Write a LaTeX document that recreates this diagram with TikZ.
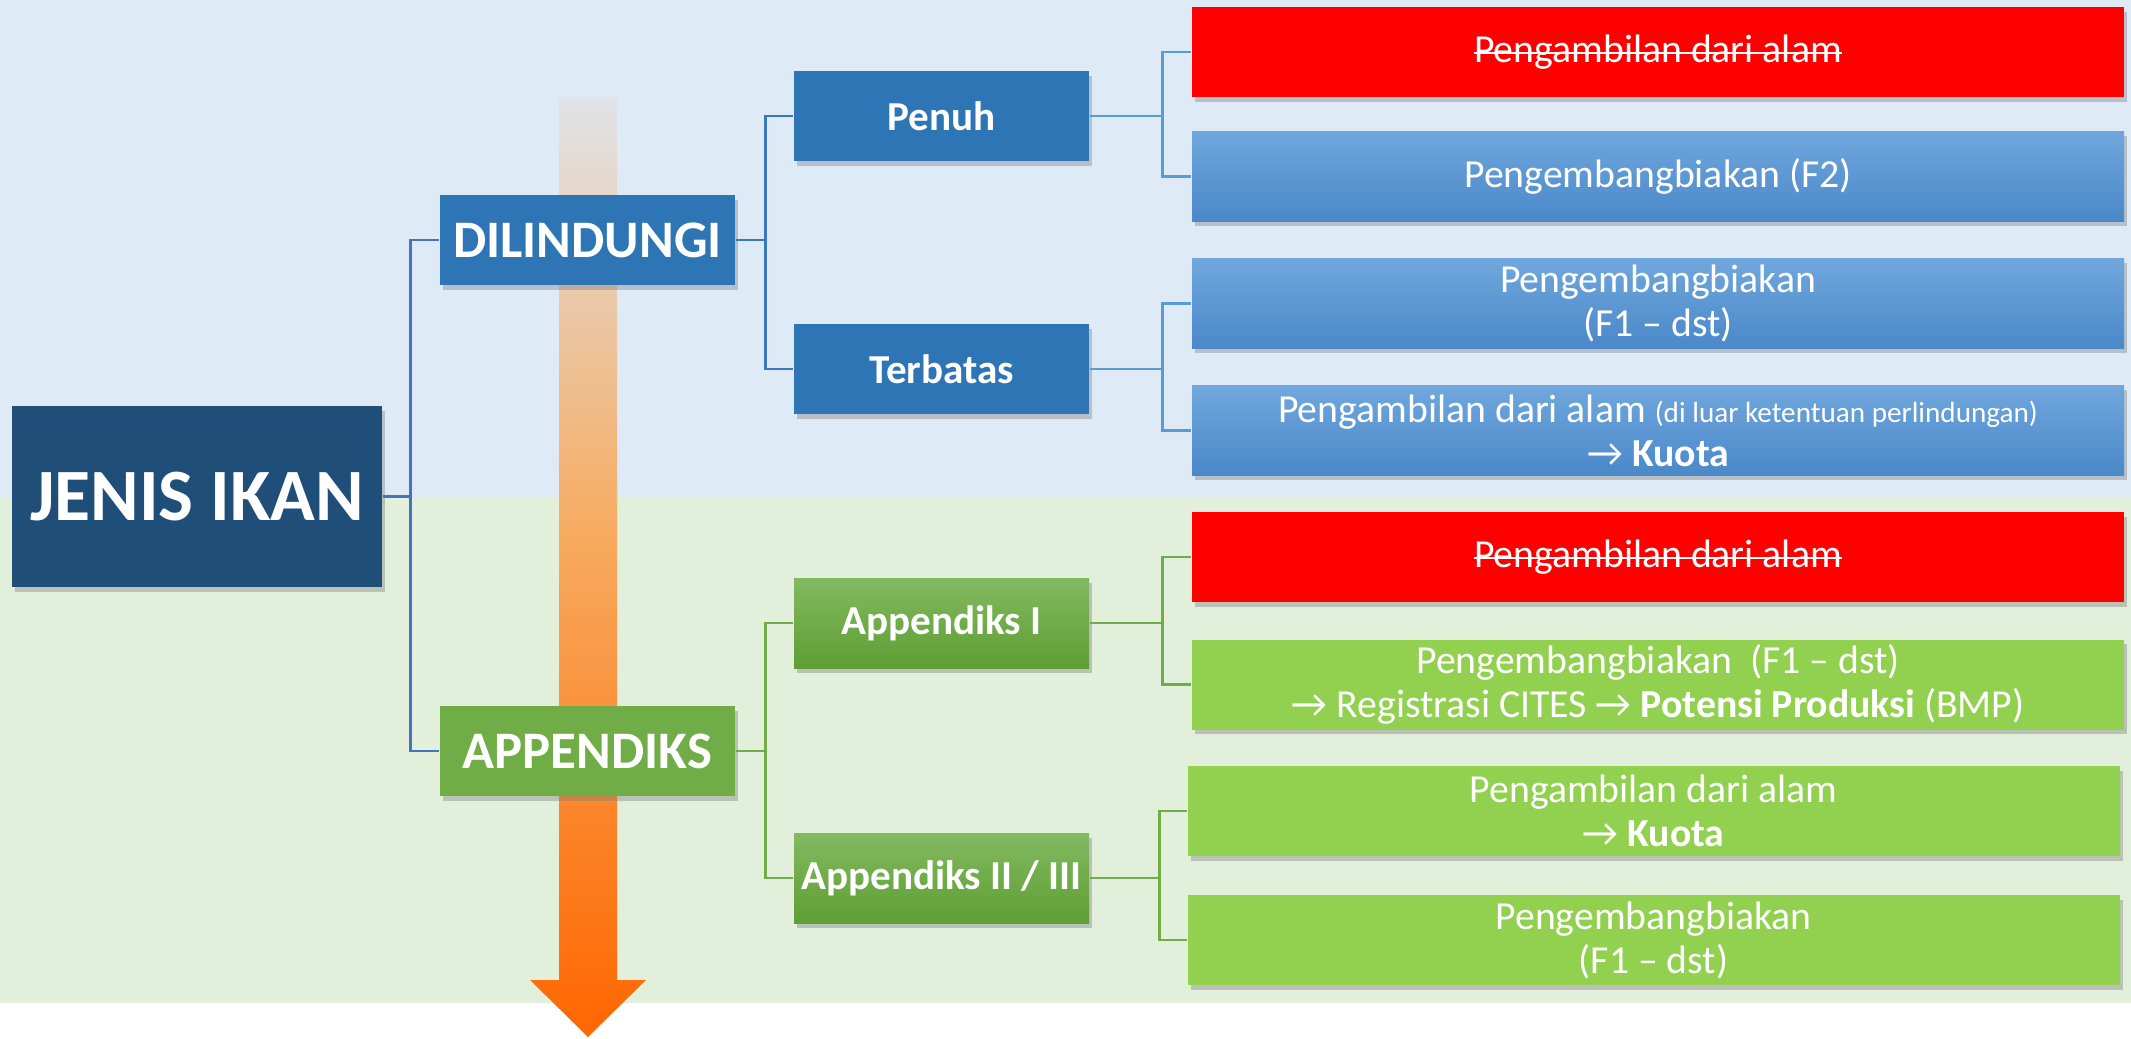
\documentclass[tikz,border=0pt]{standalone}
\usepackage{fontspec}
\setmainfont{Carlito}
\usetikzlibrary{shadows}
\newcommand{\strikeout}[1]{\setbox0=\hbox{#1}\rlap{\copy0}\rule[0.45ex]{\wd0}{0.6pt}}
\definecolor{navy}{HTML}{1F4E79}
\definecolor{ocean}{HTML}{2E75B6}
\definecolor{skytop}{HTML}{70A7DD}
\definecolor{skybot}{HTML}{4A88C9}
\definecolor{moss}{HTML}{70AD47}
\definecolor{mosstop}{HTML}{82BA60}
\definecolor{mossbot}{HTML}{5E9E34}
\definecolor{lime}{HTML}{92D050}
\definecolor{alarm}{HTML}{FF0000}
\definecolor{paleblue}{HTML}{DEEAF6}
\definecolor{palegreen}{HTML}{E2EFDA}
\definecolor{wire}{HTML}{4472C4}
\definecolor{wiremid}{HTML}{3A78BE}
\definecolor{wirelight}{HTML}{5B9BD5}
\definecolor{haze}{HTML}{E0E3E8}
\definecolor{apricot}{HTML}{F7AA5E}
\definecolor{ember}{HTML}{FF6600}

\begin{document}
\begin{tikzpicture}[x=1cm,y=1cm,font=\fontsize{11.3}{12.5}\selectfont,
  box/.style={text=white,align=center,inner sep=0pt,minimum height=0.9cm,
    drop shadow={shadow xshift=0.03cm,shadow yshift=-0.045cm,opacity=0.4}},
  branch/.style={box,minimum width=2.95cm,font=\fontsize{15}{18}\selectfont\bfseries},
  mid/.style={box,minimum width=2.95cm,font=\fontsize{11.7}{14}\selectfont\bfseries},
  leaf/.style={box,minimum width=9.32cm},
  redleaf/.style={fill=alarm},
  blueleaf/.style={top color=skytop,bottom color=skybot},
  greenleaf/.style={fill=lime},
  link/.style={line width=0.8pt}]
  \useasboundingbox (0,0) rectangle (21.31,10.38);
  % background bands
  \fill[paleblue] (0,5.40) rectangle (21.31,10.38);
  \fill[palegreen] (0,0.35) rectangle (21.31,5.40);
  % the long arrow behind the boxes
  \shade[top color=haze,bottom color=apricot] (5.59,9.41) rectangle (6.17,4.99);
  \shade[top color=apricot,bottom color=ember]
    (5.59,5.00) -- (6.17,5.00) -- (6.17,0.58) -- (6.46,0.58) -- (5.88,0.01)
    -- (5.30,0.58) -- (5.59,0.58) -- cycle;

  \node[box,fill=navy,minimum width=3.70cm,minimum height=1.81cm,
    font=\fontsize{21}{25}\selectfont\bfseries] (jenis) at (1.97,5.415) {JENIS IKAN};
  \node[branch,fill=ocean] (dil) at (5.875,7.98) {DILINDUNGI};
  \node[branch,fill=moss] (app) at (5.875,2.87) {APPENDIKS};
  \node[mid,fill=ocean] (penuh) at (9.415,9.22) {Penuh};
  \node[mid,fill=ocean] (terbatas) at (9.415,6.69) {Terbatas};
  \node[mid,top color=mosstop,bottom color=mossbot] (appi) at (9.415,4.15) {Appendiks I};
  \node[mid,top color=mosstop,bottom color=mossbot] (appii) at (9.415,1.60) {Appendiks II / III};

  \foreach \n/\x/\y/\sty/\txt in {
    1/16.58/9.86/redleaf/{\strikeout{Pengambilan dari alam}},
    2/16.58/8.615/blueleaf/{Pengembangbiakan (F2)},
    3/16.58/7.345/blueleaf/{Pengembangbiakan\\(F1 – dst)},
    4/16.58/6.075/blueleaf/{Pengambilan dari alam {\fontsize{8.3}{9}\selectfont(di luar ketentuan perlindungan)}\\→ \textbf{Kuota}},
    5/16.58/4.81/redleaf/{\strikeout{Pengambilan dari alam}},
    6/16.58/3.535/greenleaf/{Pengembangbiakan\ \ (F1 – dst)\\→ Registrasi CITES → \textbf{Potensi Produksi} (BMP)},
    7/16.535/2.27/greenleaf/{Pengambilan dari alam\\→ \textbf{Kuota}},
    8/16.535/0.98/greenleaf/{Pengembangbiakan\\(F1 – dst)}}
  {
    \node[leaf,\sty] (leaf\n) at (\x,\y) {\txt};
  }

  \draw[link,wire] (jenis.east) -- ++(0.28,0) |- (dil.west);
  \draw[link,wire] (jenis.east) -- ++(0.28,0) |- (app.west);
  \draw[link,wiremid] (dil.east) -- ++(0.30,0) |- (penuh.west);
  \draw[link,wiremid] (dil.east) -- ++(0.30,0) |- (terbatas.west);
  \draw[link,moss] (app.east) -- ++(0.30,0) |- (appi.west);
  \draw[link,moss] (app.east) -- ++(0.30,0) |- (appii.west);
  \foreach \p/\a/\b in {penuh/leaf1/leaf2,terbatas/leaf3/leaf4}
  {
    \draw[link,wirelight] (\p.east) -- ++(0.73,0) |- (\a.west);
    \draw[link,wirelight] (\p.east) -- ++(0.73,0) |- (\b.west);
  }
  \draw[link,moss] (appi.east) -- ++(0.73,0) |- (leaf5.west);
  \draw[link,moss] (appi.east) -- ++(0.73,0) |- (leaf6.west);
  \draw[link,moss] (appii.east) -- ++(0.70,0) |- (leaf7.west);
  \draw[link,moss] (appii.east) -- ++(0.70,0) |- (leaf8.west);
\end{tikzpicture}
\end{document}
